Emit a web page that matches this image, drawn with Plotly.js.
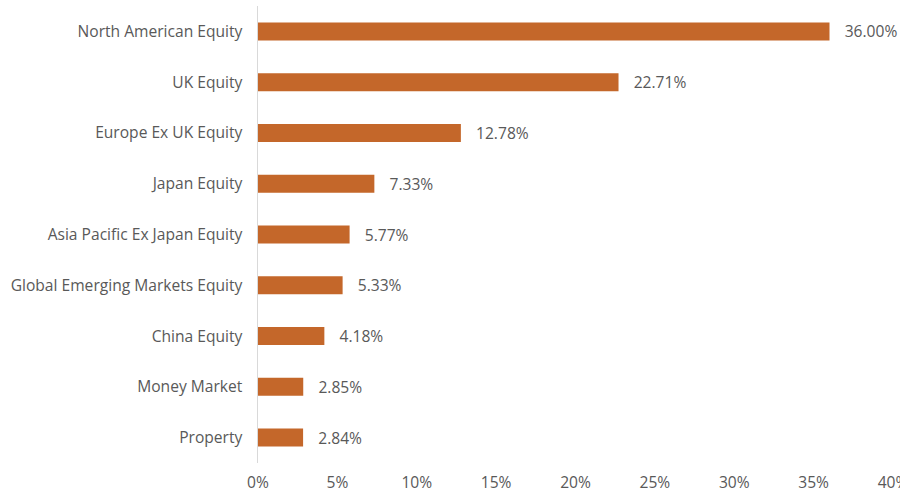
<!DOCTYPE html>
<html><head><meta charset="utf-8">
<script src="https://cdn.plot.ly/plotly-3.0.1.min.js"></script>
<style>html,body{margin:0;padding:0;background:#fff}#c{width:900px;height:493px}</style>
</head><body><div id="c"></div>
<script>
const categories = ["North American Equity","UK Equity","Europe Ex UK Equity","Japan Equity","Asia Pacific Ex Japan Equity","Global Emerging Markets Equity","China Equity","Money Market","Property"];
const values = [36.00,22.71,12.78,7.33,5.77,5.33,4.18,2.85,2.84];
const tickVals = [0,5,10,15,20,25,30,35,40];
const tickText = ["0%","5%","10%","15%","20%","25%","30%","35%","40%"];

const FONT = '"Open Sans", sans-serif';
const trace = {
  type:'bar', orientation:'h',
  x: values, y: categories,
  marker:{color:'#C4672A'},
  width:0.355,
  text: values.map(v=>'   '+v.toFixed(2)+'%'),
  textposition:'outside',
  constraintext:'none',
  textfont:{family:FONT, size:15.6, color:'#595959'},
  cliponaxis:false,
  hoverinfo:'none'
};
const layout = {
  width:900, height:493,
  margin:{l:258, r:7, t:6, b:30},
  paper_bgcolor:'#fff', plot_bgcolor:'#fff',
  font:{family:FONT, size:15.6, color:'#595959'},
  showlegend:false,
  xaxis:{range:[0,40], tickvals:tickVals, ticktext:tickText, showgrid:false, zeroline:false, showline:false, ticks:'', ticklabelstandoff:8, ticklabeloverflow:'allow', fixedrange:true},
  yaxis:{autorange:'reversed', showgrid:false, zeroline:false, showline:true, linecolor:'#d9d9d9', linewidth:1.5, ticks:'', ticklabelstandoff:11, fixedrange:true}
};
Plotly.newPlot('c',[trace],layout,{displayModeBar:false,staticPlot:true});
</script></body></html>
